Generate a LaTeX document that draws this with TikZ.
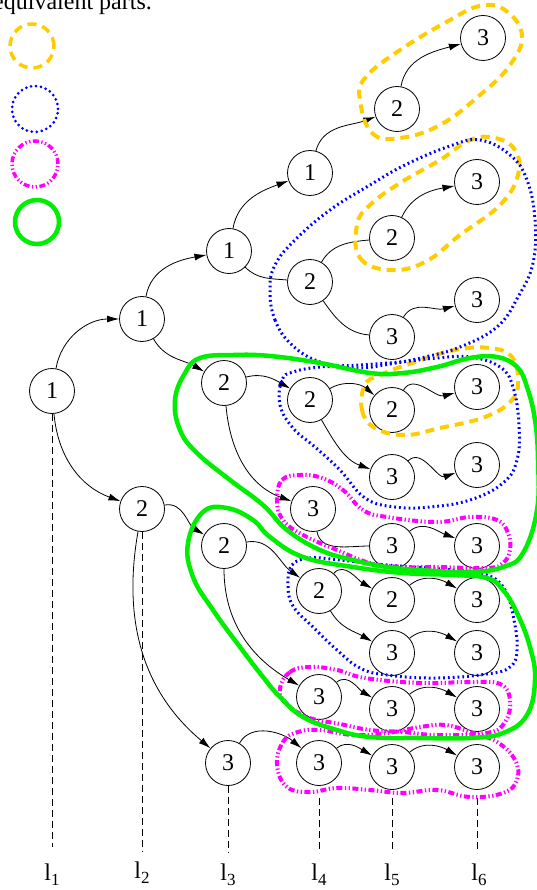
\documentclass[tikz,border=0pt]{standalone}
\usepackage{fontspec}
\setmainfont{Liberation Serif}
\usetikzlibrary{arrows.meta}
\definecolor{gold}{RGB}{255,204,0}
\definecolor{lgreen}{RGB}{0,238,0}
\definecolor{mgnt}{RGB}{255,0,255}
\definecolor{blu}{RGB}{0,0,255}
\begin{document}
\begin{tikzpicture}[x=1pt,y=1pt,
  st/.style={circle,draw,line width=0.8pt,minimum size=45pt,inner sep=0pt,fill=white,font=\fontsize{24}{28}\selectfont},
  ed/.style={line width=0.8pt,-{Latex[length=12pt,width=7pt]}},
  pl/.style={line width=0.8pt},
  yel/.style={draw=gold,line width=4pt,dash pattern=on 9pt off 6pt},
  bluedot/.style={draw=blu,line width=3pt,dash pattern=on 1.8pt off 3pt},
  mag/.style={draw=mgnt,line width=4pt,dash pattern=on 6pt off 2.5pt on 1.3pt off 2.5pt on 1.3pt off 2.5pt},
  grn/.style={draw=lgreen,line width=4.5pt},
  lev/.style={line width=0.8pt,dash pattern=on 7pt off 4pt},
  lab/.style={anchor=base,inner sep=0pt,font=\fontsize{24}{28}\selectfont}
]
\useasboundingbox (0,0) rectangle (537,-890);
\clip (0,0) rectangle (537,-890);

% title
\node[anchor=base west,inner sep=0pt,font=\fontsize{24}{28}\selectfont] (title) at (-7,-10) {equivalent parts.};

% legend
\draw[yel,line width=3.5pt] (32,-46) circle (22);
\draw[bluedot,line cap=round,dash pattern=on 0pt off 5pt] (35,-109) circle (23);
\draw[mag,line width=3.5pt] (35,-164) circle (23);
\draw[grn] (37,-222) circle (22);

% nodes
\node[st] (n1) at (52,-391) {1};
\node[st] (a)  at (142,-319) {1};
\node[st] (b)  at (142,-509) {2};
\node[st] (c)  at (229,-251) {1};
\node[st] (d)  at (224,-383) {2};
\node[st] (u)  at (224,-546) {2};
\node[st] (v)  at (228,-763) {3};
\node[st] (e)  at (310,-173) {1};
\node[st] (f)  at (310,-282) {2};
\node[st] (m)  at (310,-400) {2};
\node[st] (nn) at (313,-509) {3};
\node[st] (w)  at (319,-591) {2};
\node[st] (xx) at (319,-697) {3};
\node[st] (ae) at (319,-763) {3};
\node[st] (g)  at (397,-109) {2};
\node[st] (i)  at (392,-238) {2};
\node[st] (k)  at (392,-337) {3};
\node[st] (o)  at (392,-410) {2};
\node[st] (q)  at (392,-477) {3};
\node[st] (s)  at (392,-546) {3};
\node[st] (yy) at (392,-600) {2};
\node[st] (aa) at (392,-653) {3};
\node[st] (ac) at (392,-709) {3};
\node[st] (af) at (392,-767) {3};
\node[st] (h)  at (483,-38) {3};
\node[st] (j)  at (477,-182) {3};
\node[st] (l)  at (477,-300) {3};
\node[st] (p)  at (477,-387) {3};
\node[st] (r)  at (477,-465) {3};
\node[st] (t)  at (477,-546) {3};
\node[st] (z)  at (477,-600) {3};
\node[st] (ab) at (477,-653) {3};
\node[st] (ad) at (477,-709) {3};
\node[st] (ag) at (477,-767) {3};

% edges
\draw[ed] (n1) to[out=80,in=180] (a);
\draw[ed] (n1) to[out=-85,in=160] (b);
\draw[ed] (a) to[out=80,in=190] (c);
\draw[ed] (a) to[out=-60,in=150] (d);
\draw[ed] (c) to[out=80,in=200] (e);
\draw[pl] (c) to[out=-45,in=175] (f);
\draw[ed] (e) to[out=75,in=200] (g);
\draw[ed] (g) to[out=80,in=195] (h);
\draw[pl] (f) to[out=60,in=185] (i);
\draw[ed] (i) to[out=65,in=190] (j);
\draw[pl] (f) to[out=-55,in=175] (k);
\draw[ed] (k) to[out=60,in=195] (l);
\draw[ed] (d) to[out=15,in=150] (m);
\draw[ed] (d) to[out=-85,in=160] (nn);
\draw[ed] (m) to[out=30,in=140] (o);
\draw[ed] (o) to[out=60,in=195] (p);
\draw[ed] (m) to[out=-60,in=160] (q);
\draw[ed] (q) to[out=45,in=200] (r);
\draw[pl] (nn) to[out=-80,in=180] (s);
\draw[ed] (s) to[out=40,in=160] (t);
\draw[ed] (b) to[out=10,in=150] (u);
\draw[ed] (b) to[out=-100,in=140] (v);
\draw[ed] (u) to[out=10,in=145] (w);
\draw[ed] (u) to[out=-90,in=150] (xx);
\draw[ed] (w) to[out=50,in=150] (yy);
\draw[ed] (yy) to[out=40,in=150] (z);
\draw[ed] (w) to[out=-60,in=150] (aa);
\draw[ed] (aa) to[out=40,in=150] (ab);
\draw[ed] (xx) to[out=40,in=150] (ac);
\draw[ed] (ac) to[out=40,in=150] (ad);
\draw[ed] (v) to[out=60,in=140] (ae);
\draw[ed] (ae) to[out=40,in=150] (af);
\draw[ed] (af) to[out=40,in=150] (ag);

% level lines
\coordinate (L1) at (52,-847);
\coordinate (L2) at (142,-852);
\coordinate (L3) at (228,-852);
\coordinate (T4) at (319,-798);
\coordinate (L4) at (319,-853);
\coordinate (T5) at (392,-798);
\coordinate (L5) at (392,-853);
\coordinate (T6) at (477,-798);
\coordinate (L6) at (477,-853);
\draw[lev] (n1.south) -- (L1);
\draw[lev] (b.south) -- (L2);
\draw[lev] (v.south) -- (L3);
\draw[lev] (T4) -- (L4);
\draw[lev] (T5) -- (L5);
\draw[lev] (T6) -- (L6);

\node[lab] (lab1) at (52,-880) {l\raisebox{-5pt}{\fontsize{17}{17}\selectfont 1}};
\node[lab] (lab2) at (142,-878) {l\raisebox{-5pt}{\fontsize{17}{17}\selectfont 2}};
\node[lab] (lab3) at (228,-880) {l\raisebox{-5pt}{\fontsize{17}{17}\selectfont 3}};
\node[lab] (lab4) at (319,-880) {l\raisebox{-5pt}{\fontsize{17}{17}\selectfont 4}};
\node[lab] (lab5) at (392,-880) {l\raisebox{-5pt}{\fontsize{17}{17}\selectfont 5}};
\node[lab] (lab6) at (479,-880) {l\raisebox{-5pt}{\fontsize{17}{17}\selectfont 6}};

% yellow blobs
\draw[yel] plot[smooth cycle,tension=0.7] coordinates {(360,-100) (372,-133) (400,-138) (440,-125) (480,-95) (510,-65) (522,-35) (505,-10) (480,-6) (450,-20) (400,-50) (365,-78)};
\draw[yel] plot[smooth cycle,tension=0.7] coordinates {(357,-225) (360,-258) (390,-270) (425,-262) (460,-235) (500,-205) (518,-175) (515,-150) (495,-138) (470,-140) (440,-160) (400,-183) (370,-205)};
\draw[yel] plot[smooth cycle,tension=0.7] coordinates {(365,-385) (362,-410) (375,-428) (405,-435) (440,-428) (485,-417) (512,-400) (518,-380) (512,-357) (490,-348) (455,-350) (415,-362) (380,-375)};

% blue blobs
\draw[bluedot] plot[smooth cycle,tension=0.7] coordinates {(270,-290) (275,-320) (292,-345) (320,-362) (355,-368) (390,-364) (425,-357) (460,-347) (497,-327) (518,-297) (533,-263) (535,-220) (527,-180) (510,-155) (480,-140) (450,-146) (405,-165) (370,-185) (330,-210) (295,-240) (275,-265)};
\draw[bluedot] plot[smooth cycle,tension=0.7] coordinates {(282,-380) (280,-405) (293,-428) (315,-447) (340,-470) (365,-498) (395,-507) (430,-507) (470,-500) (503,-483) (517,-460) (519,-425) (513,-387) (500,-367) (470,-357) (437,-358) (400,-362) (360,-365) (320,-367) (293,-372)};
\draw[bluedot] plot[smooth cycle,tension=0.7] coordinates {(288,-585) (292,-565) (310,-558) (340,-560) (387,-565) (453,-570) (487,-575) (505,-590) (514,-620) (517,-650) (510,-667) (487,-674) (437,-678) (387,-675) (360,-668) (337,-650) (313,-627) (293,-606)};

% magenta blobs
\draw[mag] plot[smooth cycle,tension=0.7] coordinates {(277,-500) (282,-480) (300,-475) (322,-478) (343,-490) (363,-510) (387,-517) (437,-522) (470,-517) (497,-520) (508,-533) (510,-550) (503,-563) (487,-568) (437,-567) (403,-567) (370,-563) (337,-550) (303,-535) (283,-520)};
\draw[mag] plot[smooth cycle,tension=0.7] coordinates {(280,-688) (290,-672) (310,-667) (337,-670) (365,-678) (420,-683) (470,-682) (500,-684) (510,-700) (505,-722) (487,-733) (437,-735) (403,-732) (370,-730) (340,-724) (307,-717) (285,-702)};
\draw[mag] plot[smooth cycle,tension=0.7] coordinates {(277,-765) (283,-742) (298,-732) (320,-730) (353,-735) (387,-733) (420,-727) (445,-725) (470,-732) (497,-742) (515,-760) (517,-780) (503,-793) (470,-797) (437,-790) (403,-793) (370,-790) (337,-788) (310,-792) (287,-787)};

% green blobs
\draw[grn] plot[smooth cycle,tension=0.7] coordinates {(200,-358) (233,-355) (270,-356) (320,-363) (370,-373) (403,-373) (437,-367) (470,-358) (497,-357) (517,-367) (527,-387) (535,-420) (538,-460) (537,-510) (523,-553) (503,-567) (470,-572) (420,-570) (387,-567) (353,-560) (320,-550) (287,-530) (263,-505) (230,-480) (197,-453) (180,-430) (175,-400) (185,-373)};
\draw[grn] plot[smooth cycle,tension=0.7] coordinates {(203,-512) (227,-508) (253,-520) (270,-537) (303,-557) (353,-567) (403,-573) (453,-575) (487,-578) (503,-590) (517,-613) (530,-647) (535,-680) (527,-715) (503,-733) (470,-738) (420,-738) (370,-737) (337,-730) (303,-717) (280,-697) (263,-677) (240,-647) (213,-610) (193,-577) (188,-543)};
\end{tikzpicture}
\end{document}
